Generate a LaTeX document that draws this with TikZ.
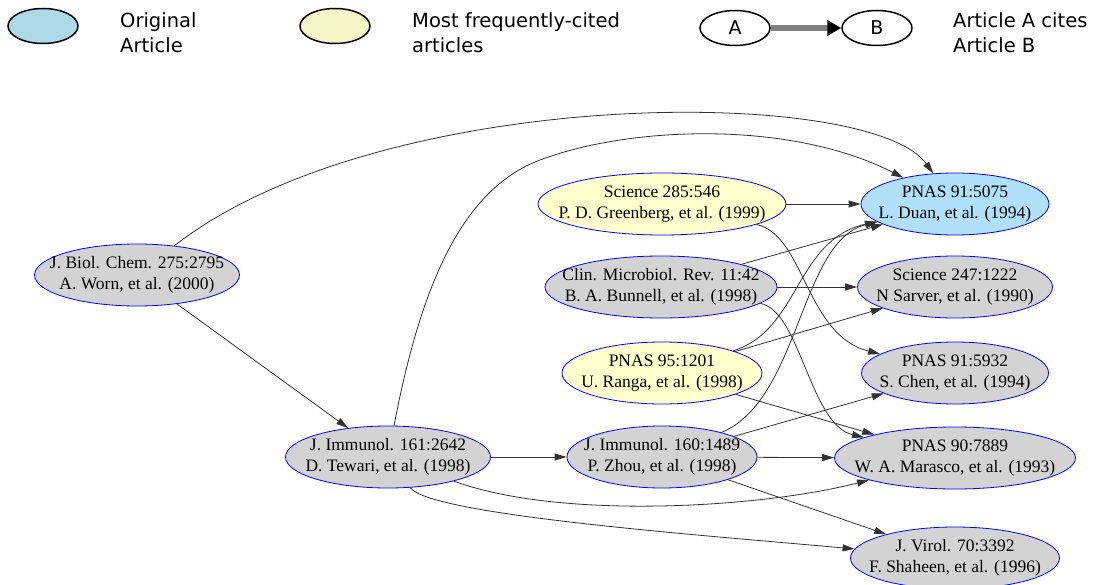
\documentclass[tikz,border=0pt]{standalone}
\usepackage{fontspec}
\setmainfont{Liberation Serif}
\newfontfamily\legendfont{DejaVu Sans}
\usetikzlibrary{shapes.geometric,arrows.meta}
\definecolor{artgray}{RGB}{211,211,211}
\definecolor{origblue}{RGB}{176,224,250}
\definecolor{citedyellow}{RGB}{255,255,206}
\definecolor{keyblue}{RGB}{173,216,230}
\definecolor{keyyellow}{RGB}{245,245,200}
\definecolor{edgegray}{RGB}{50,50,50}

\begin{document}
\begin{tikzpicture}[x=1pt,y=-1pt,
    art/.style={ellipse,draw=blue,line width=0.8pt,fill=artgray,align=center,
      inner xsep=-20pt,inner ysep=0pt,minimum height=62pt,minimum width=#1,
      font=\fontsize{17.5}{21}\selectfont},
    orig/.style={fill=origblue},
    cited/.style={fill=citedyellow},
    cite/.style={draw=edgegray,line width=0.8pt,-{Triangle[length=12pt,width=7pt]}},
    key/.style={ellipse,draw,line width=1.5pt,minimum width=70pt,minimum height=35pt,
      inner sep=0pt,font=\legendfont\fontsize{19}{19}\selectfont},
    keytext/.style={anchor=west,align=left,inner sep=0pt,
      font=\legendfont\fontsize{19.5}{25}\selectfont}]
    \useasboundingbox (0,0) rectangle (1094,585);

    \node[key,fill=keyblue] (keyorig) at (43,26) {};
    \node[keytext] (keyorigtext) at (120,33) {Original\\Article};
    \node[key,fill=keyyellow] (keycited) at (335,26) {};
    \node[keytext] (keycitedtext) at (412,33) {Most frequently-cited\\articles};
    \node[key] (keya) at (735,28) {A};
    \node[key] (keyb) at (877,28) {B};
    \node[keytext] (keycitestext) at (953,33) {Article A cites\\Article B};
    \draw[line width=6pt,gray,-{Triangle[black,length=14pt,width=15pt]}] (keya) -- (keyb);

    \node[art=205pt] (jbc) at (137,275) {J. Biol. Chem. 275:2795\\A. Worn, et al. (2000)};
    \node[art=205pt] (ji161) at (388,457) {J. Immunol. 161:2642\\D. Tewari, et al. (1998)};
    \node[art=248pt,cited] (s285) at (662,204) {Science 285:546\\P. D. Greenberg, et al. (1999)};
    \node[art=232pt] (cmr) at (661,287) {Clin. Microbiol. Rev. 11:42\\B. A. Bunnell, et al. (1998)};
    \node[art=200pt,cited] (pnas95) at (662,373) {PNAS 95:1201\\U. Ranga, et al. (1998)};
    \node[art=190pt] (ji160) at (662,457) {J. Immunol. 160:1489\\P. Zhou, et al. (1998)};
    \node[art=188pt,orig] (duan) at (955,204) {PNAS 91:5075\\L. Duan, et al. (1994)};
    \node[art=195pt] (sci247) at (955,287) {Science 247:1222\\N Sarver, et al. (1990)};
    \node[art=187pt] (chen) at (955,373) {PNAS 91:5932\\S. Chen, et al. (1994)};
    \node[art=241pt] (marasco) at (955,458) {PNAS 90:7889\\W. A. Marasco, et al. (1993)};
    \node[art=209pt] (shaheen) at (955,558) {J. Virol. 70:3392\\F. Shaheen, et al. (1996)};

    \draw[cite] (jbc) .. controls (380,85) and (870,85) .. (duan);
    \draw[cite] (jbc) -- (ji161);
    \draw[cite] (ji161) .. controls (420,290) and (460,190) .. (540,160)
        .. controls (630,126) and (790,120) .. (duan);
    \draw[cite] (ji161) -- (ji160);
    \draw[cite] (ji161) .. controls (560,520) and (760,508) .. (marasco);
    \draw[cite] (ji161) .. controls (430,515) and (700,535) .. (shaheen);
    \draw[cite] (s285) -- (duan);
    \draw[cite] (s285) .. controls (805,235) and (805,335) .. (chen);
    \draw[cite] (cmr) -- (duan);
    \draw[cite] (cmr) -- (sci247);
    \draw[cite] (cmr) .. controls (800,310) and (810,425) .. (marasco);
    \draw[cite] (pnas95) .. controls (800,330) and (795,240) .. (duan);
    \draw[cite] (pnas95) -- (sci247);
    \draw[cite] (pnas95) -- (marasco);
    \draw[cite] (ji160) .. controls (800,400) and (800,240) .. (duan);
    \draw[cite] (ji160) -- (chen);
    \draw[cite] (ji160) -- (marasco);
    \draw[cite] (ji160) -- (shaheen);
\end{tikzpicture}
\end{document}
